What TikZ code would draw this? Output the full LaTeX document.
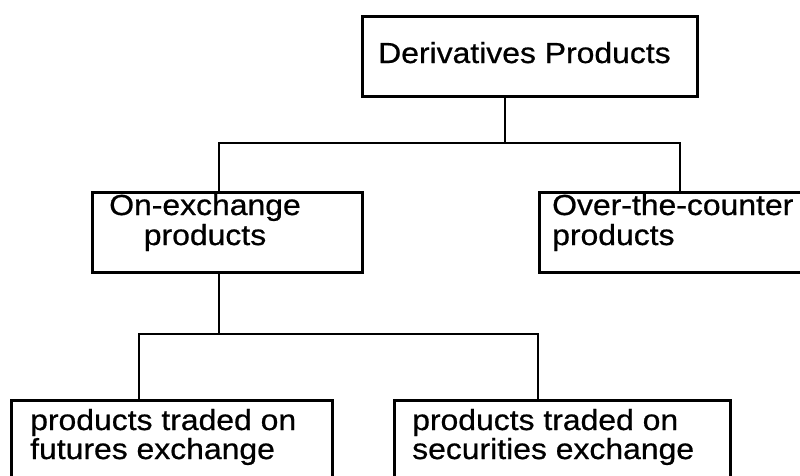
\documentclass[tikz,border=0pt]{standalone}
\usepackage{fontspec}
\setmainfont{Liberation Sans}[FakeStretch=1.1,FakeBold=0.7]
\begin{document}
\begin{tikzpicture}[x=1pt,y=-1pt,
  box/.style={draw, line width=2.8pt, inner sep=0pt, anchor=north west},
  txt/.style={inner sep=0pt, font=\fontsize{29}{29}\selectfont},
  link/.style={line width=2.8pt}]
\useasboundingbox (0,0) rectangle (800,475);
\clip (0,0) rectangle (800,475);

% boxes
\node[box, minimum width=335pt, minimum height=80pt]  (top)  at (361,15)  {};
\node[box, minimum width=270pt, minimum height=80pt]  (onex) at (91,191)  {};
\node[box, minimum width=300pt, minimum height=80pt]  (otc)  at (538,191) {};
\node[box, minimum width=321pt, minimum height=100pt] (fut)  at (10,399)  {};
\node[box, minimum width=336pt, minimum height=100pt] (sec)  at (393,399) {};

% labels
\node[txt, anchor=base west] (t1)  at (378,63)  {Derivatives Products};
\node[txt, anchor=base]      (t2a) at (205,215) {On-exchange};
\node[txt, anchor=base]      (t2b) at (205,245) {products};
\node[txt, anchor=base west] (t3a) at (552,215) {Over-the-counter};
\node[txt, anchor=base west] (t3b) at (552,245) {products};
\node[txt, anchor=base west] (t4a) at (30,430)  {products traded on};
\node[txt, anchor=base west] (t4b) at (30,459)  {futures exchange};
\node[txt, anchor=base west] (t5a) at (412,430) {products traded on};
\node[txt, anchor=base west] (t5b) at (412,459) {securities exchange};

% tree connectors
\coordinate (j1) at (505,143);
\coordinate (j2) at (219,334);
\draw[link] ([xshift=144pt]top.south west) -- (j1);
\draw[link] ([xshift=128pt]onex.north west) |- (j1) -| ([xshift=142pt]otc.north west);
\draw[link] ([xshift=128pt]onex.south west) -- (j2);
\draw[link] ([xshift=129pt]fut.north west) |- (j2) -| ([xshift=145pt]sec.north west);
\end{tikzpicture}
\end{document}
